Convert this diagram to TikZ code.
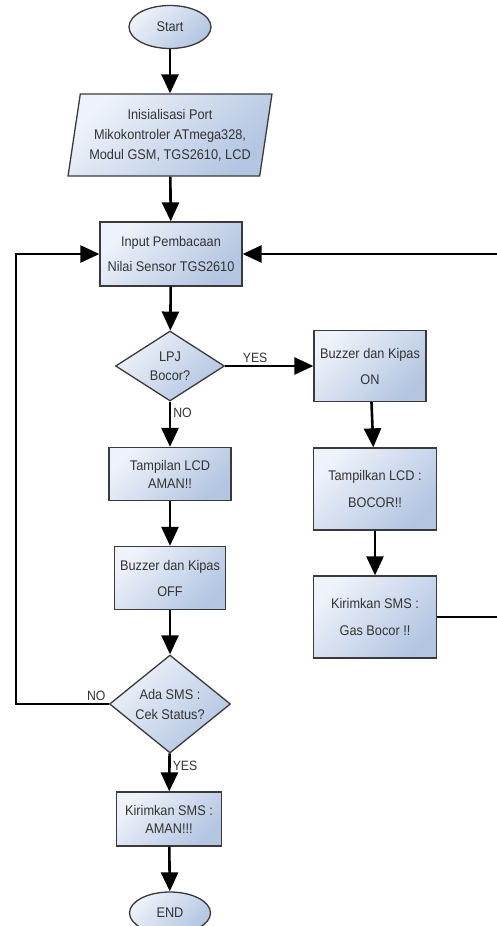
\documentclass[tikz,border=0pt]{standalone}
\usepackage{fontspec}
\setmainfont{Liberation Sans}[FakeStretch=0.91]
\usepackage{tikz}
\usetikzlibrary{positioning}
\usetikzlibrary{arrows.meta,shapes.geometric,calc}
\usepackage{xcolor}
\definecolor{boxlight}{HTML}{EEF2FA}
\definecolor{boxdark}{HTML}{B3C5E1}
\definecolor{boxline}{HTML}{3A3A3A}
\definecolor{teks}{HTML}{333333}

\begin{document}
\begin{tikzpicture}[x=1pt,y=1pt,
  font=\fontsize{14}{18}\selectfont,
  blok/.style={draw=boxline, line width=1.3pt, top color=boxlight, bottom color=boxdark, shading angle=45, text=teks, align=center, inner sep=0pt},
  kotak/.style={blok, rectangle},
  oval/.style={blok, ellipse},
  keputusan/.style={blok, diamond},
  miring/.style={blok, trapezium, trapezium left angle=78, trapezium right angle=102, trapezium stretches=true},
  panah/.style={line width=2.6pt, -{Triangle[length=19pt,width=17pt]}},
  ket/.style={font=\fontsize{13.5}{15}\selectfont, text=teks, inner sep=2pt}]

\useasboundingbox (0,0) rectangle (497,-926);

\node[oval, minimum width=82, minimum height=43] (start) at (170,-27) {Start};
\node[miring, minimum width=204, minimum height=82] (init) at (170,-135) {Inisialisasi Port\\[2pt]Mikokontroler ATmega328,\\[2pt]Modul GSM, TGS2610, LCD};
\node[kotak, minimum width=142, minimum height=64] (input) at (171,-254) {Input Pembacaan\\[7pt]Nilai Sensor TGS2610};
\node[keputusan, aspect=1.56, minimum width=109, minimum height=70] (lpj) at (170,-366) {LPJ\\[1pt]Bocor?};
\node[kotak, minimum width=112, minimum height=71] (on) at (370,-366) {Buzzer dan Kipas\\[8pt]ON};
\node[kotak, minimum width=122, minimum height=53] (aman) at (170,-474) {Tampilan LCD\\AMAN!!};
\node[kotak, minimum width=111, minimum height=63] (off) at (170,-578) {Buzzer dan Kipas\\[8pt]OFF};
\node[kotak, minimum width=123, minimum height=82] (bocor) at (375,-489) {Tampilkan LCD :\\[9pt]BOCOR!!};
\node[kotak, minimum width=123, minimum height=82] (gas) at (375,-617) {Kirimkan SMS :\\[9pt]Gas Bocor !!};
\node[keputusan, aspect=1.23, minimum width=121, minimum height=98] (cek) at (170,-704) {Ada SMS :\\[2pt]Cek Status?};
\node[kotak, minimum width=105, minimum height=54] (sms) at (169,-819) {Kirimkan SMS :\\AMAN!!!};
\node[oval, minimum width=81, minimum height=42] (end) at (170,-913) {END};

\coordinate (kanan) at (506,-254);
\coordinate (kiri) at (16,-254);

\draw[panah] (start) -- (init);
\draw[panah] (init) -- (input);
\draw[panah] (input) -- (lpj);
\draw[panah] (lpj) -- node[ket, above, pos=0.34] {YES} (on);
\draw[panah] (lpj) -- node[ket, right, pos=0.25] {NO} (aman);
\draw[panah] (aman) -- (off);
\draw[panah] (off) -- (cek);
\draw[panah] (cek) -- node[ket, right, pos=0.33] {YES} (sms);
\draw[panah] (sms) -- (end);
\draw[panah] (on) -- (bocor);
\draw[panah] (bocor) -- (gas);
\draw[panah] (gas.east) -| (kanan) -- (input.east);
\draw[panah] (cek.west) node[ket, above left] {NO} -| (kiri) -- (input.west);

\end{tikzpicture}
\end{document}
